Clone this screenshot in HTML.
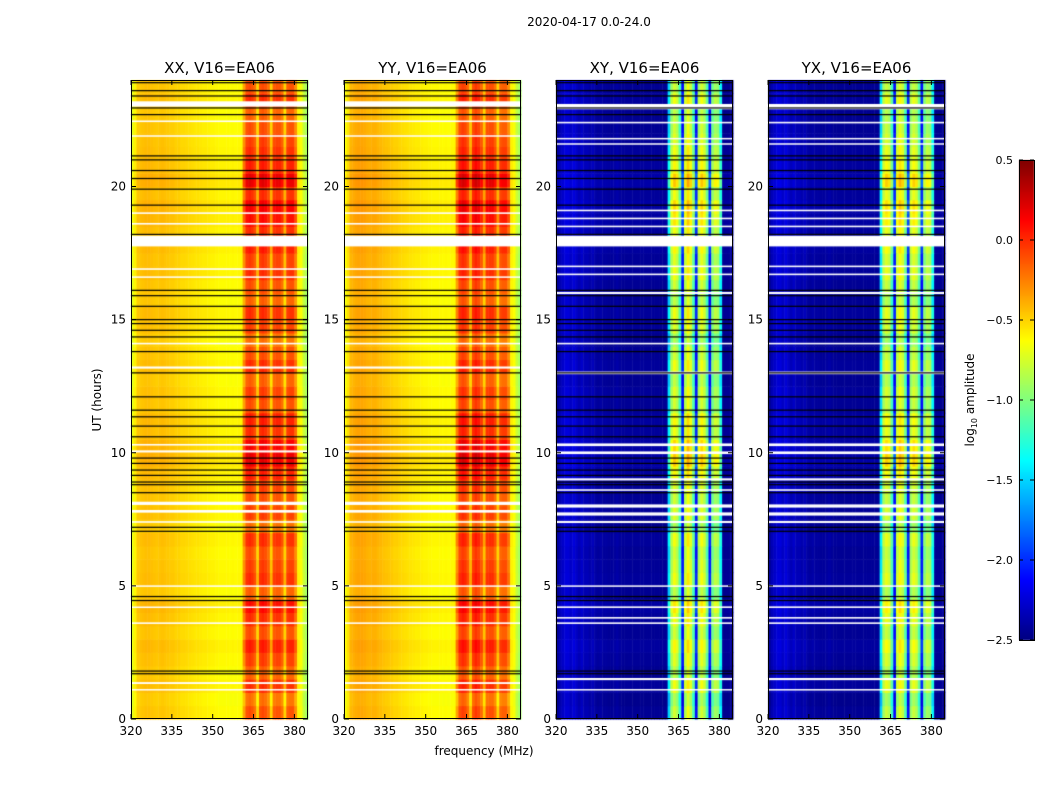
<!DOCTYPE html>
<html><head><meta charset="utf-8"><style>
body{margin:0;background:#fff;width:1050px;height:800px;overflow:hidden;position:relative;font-family:"Liberation Sans","DejaVu Sans",sans-serif}
canvas{position:absolute;left:0;top:0}
svg{position:absolute;left:0;top:0}
text{font-family:"DejaVu Sans","Liberation Sans",sans-serif;fill:#000}
</style></head><body>
<canvas id="cv" width="1050" height="800"></canvas>
<svg id="sv" width="1050" height="800"></svg>
<script>
// ---- data ----
const freqStart = 320;            // MHz, 1 MHz channels
const xTicks = [320,335,350,365,380];
const yTicks = [0,5,10,15,20];
const cbTicks = [0.5,0.0,-0.5,-1.0,-1.5,-2.0,-2.5];
const panelTitles = ["XX, V16=EA06","YY, V16=EA06","XY, V16=EA06","YX, V16=EA06"];
const profXX = [-0.7,-0.6,-0.48,-0.46,-0.45,-0.44,-0.44,-0.45,-0.46,-0.47,-0.46,-0.45,-0.46,-0.47,-0.48,-0.48,-0.5,-0.5,-0.52,-0.52,-0.53,-0.54,-0.55,-0.56,-0.56,-0.57,-0.58,-0.58,-0.59,-0.6,-0.6,-0.61,-0.62,-0.62,-0.62,-0.62,-0.63,-0.62,-0.63,-0.62,-0.63,
 -0.35,-0.12,-0.08,-0.12,-0.2,-0.5,-0.12,-0.08,-0.12,-0.2,-0.5,-0.15,-0.12,-0.12,-0.2,-0.5,-0.15,-0.12,-0.12,-0.3,-0.6,-0.65,-0.8,-0.9];
const profYY = [-0.65,-0.55,-0.42,-0.4,-0.38,-0.37,-0.37,-0.38,-0.4,-0.41,-0.4,-0.4,-0.42,-0.43,-0.45,-0.46,-0.47,-0.48,-0.5,-0.5,-0.52,-0.53,-0.54,-0.55,-0.56,-0.57,-0.58,-0.58,-0.59,-0.6,-0.6,-0.61,-0.62,-0.62,-0.62,-0.62,-0.63,-0.62,-0.63,-0.62,-0.62,
 -0.35,-0.1,-0.05,-0.08,-0.18,-0.45,-0.1,-0.03,-0.08,-0.18,-0.45,-0.12,-0.1,-0.1,-0.2,-0.5,-0.18,-0.15,-0.15,-0.3,-0.6,-0.65,-0.8,-0.9];
const profXY = [-2.45,-2.35,-2.3,-2.25,-2.25,-2.3,-2.25,-2.3,-2.35,-2.3,-2.35,-2.35,-2.38,-2.35,-2.4,-2.42,-2.4,-2.42,-2.42,-2.43,-2.43,-2.42,-2.4,-2.43,-2.44,-2.44,-2.44,-2.44,-2.44,-2.44,-2.44,-2.44,-2.44,-2.44,-2.44,-2.44,-2.44,-2.44,-2.44,-2.44,-2.44,
 -1.5,-0.9,-0.75,-0.85,-1.2,-2.1,-0.85,-0.65,-0.8,-1.15,-2.1,-0.9,-0.75,-0.85,-1.15,-2.1,-1.05,-0.9,-0.95,-1.4,-2.45,-2.45,-2.45,-2.45];
const profYX = [-2.45,-2.35,-2.3,-2.25,-2.25,-2.3,-2.25,-2.3,-2.35,-2.3,-2.35,-2.35,-2.38,-2.35,-2.4,-2.42,-2.4,-2.42,-2.42,-2.43,-2.43,-2.42,-2.4,-2.43,-2.44,-2.44,-2.44,-2.44,-2.44,-2.44,-2.44,-2.44,-2.44,-2.44,-2.44,-2.44,-2.44,-2.44,-2.44,-2.44,-2.44,
 -1.5,-0.9,-0.78,-0.85,-1.2,-2.1,-0.85,-0.7,-0.8,-1.15,-2.1,-0.9,-0.78,-0.85,-1.15,-2.1,-1.05,-0.9,-0.95,-1.4,-2.45,-2.45,-2.45,-2.45];
// half-hour modulation of band brightness (0..24 h)
const rowMod = [0.0,-0.1,0.1,-0.05,0.05,0.15,0.0,0.1,0.2,-0.05,0.1,0.05,0.0,0.1,-0.1,0.05,0.0,0.05,0.15,0.3,0.25,0.1,0.15,0.0,
 0.05,-0.05,0.1,0.0,-0.1,0.05,0.1,-0.05,0.0,0.1,0.05,0.15,0.1,0.2,0.25,0.1,0.3,0.15,0.1,0.05,0.0,-0.05,0.1,0.0];
const whiteRowsXX = [[23.1,0.2],[22.45,0.06],[21.9,0.05],[19.0,0.06],[18.6,0.06],[17.95,0.4],[16.9,0.06],[16.6,0.05],[14.1,0.06],[13.2,0.08],[10.3,0.06],[10.05,0.08],[8.1,0.12],[7.8,0.1],[7.4,0.06],[5.0,0.04],[4.2,0.05],[3.6,0.06],[1.35,0.07],[1.1,0.05]];
const whiteRowsCross = [[23.0,0.2],[22.4,0.06],[21.8,0.05],[21.6,0.05],[19.1,0.06],[18.8,0.06],[18.5,0.06],[17.95,0.4],[17.0,0.06],[16.7,0.06],[16.0,0.08],[14.1,0.06],[13.0,0.1],[10.3,0.1],[10.0,0.1],[9.0,0.08],[8.6,0.06],[8.0,0.12],[7.7,0.12],[7.4,0.08],[5.0,0.04],[4.2,0.06],[3.8,0.06],[3.6,0.06],[1.5,0.08],[1.1,0.05]];
const blackRows = [23.9,23.6,23.4,22.95,22.7,21.15,21.0,20.6,20.3,19.9,19.3,18.2,16.1,15.9,15.5,15.0,14.85,14.6,14.35,13.8,13.0,12.1,11.6,11.35,11.0,10.6,9.8,9.6,9.35,9.15,8.9,8.8,8.5,7.2,7.05,4.6,4.45,1.8,1.7];
// ---- layout ----
const lefts=[131,344,556,768], W=177, T=80, B=719, fMax=385, tMax=24;
const profs=[profXX,profYY,profXY,profYX];
const xs=(p,f)=>lefts[p]+(f-freqStart)/(fMax-freqStart)*W;
const ys=t=>B-(t/tMax)*(B-T);
function jet(v){ // v in [-2.5,0.5]
  let x=(v+2.5)/3; x=Math.max(0,Math.min(1,x));
  const c=t=>Math.round(255*Math.max(0,Math.min(1,1.5-Math.abs(4*x-t))));
  return `rgb(${c(3)},${c(2)},${c(1)})`;
}
const cv=document.getElementById('cv'), ctx=cv.getContext('2d');
for(let p=0;p<4;p++){
  const prof=profs[p];
  for(let r=0;r<rowMod.length;r++){
    const t0=r*0.5, t1=t0+0.5;
    for(let i=0;i<prof.length;i++){
      const f=freqStart+i;
      const band=(f>=361&&f<=380);
      const v=prof[i]+(band?rowMod[r]:rowMod[r]*0.2);
      ctx.fillStyle=jet(v);
      const x0=xs(p,f), x1=xs(p,Math.min(f+1,fMax));
      ctx.fillRect(x0,ys(t1),x1-x0+0.5,ys(t0)-ys(t1)+0.5);
    }
  }
  const wr = p<2?whiteRowsXX:whiteRowsCross;
  ctx.fillStyle='#fff';
  wr.forEach(([t,h])=>{ctx.fillRect(lefts[p],ys(t+h/2),W,Math.max(1.5,ys(t-h/2)-ys(t+h/2)));});
  ctx.fillStyle='#000';
  blackRows.forEach(t=>{ctx.fillRect(lefts[p],ys(t)-0.6,W,1.2);});
}
// colorbar
for(let y=160;y<640;y++){ctx.fillStyle=jet(0.5-(y-160)/480*3);ctx.fillRect(1019,y,15,1);}
// ---- svg overlay ----
const NS='http://www.w3.org/2000/svg', sv=document.getElementById('sv');
function mk(tag,attrs,txt){const e=document.createElementNS(NS,tag);for(const k in attrs)e.setAttribute(k,attrs[k]);if(txt!==undefined)e.textContent=txt;sv.appendChild(e);return e;}
const title=mk('text',{x:589,y:26,'text-anchor':'middle','font-size':12},'2020-04-17 0.0-24.0');


for(let p=0;p<4;p++){
  const fr=mk('rect',{x:lefts[p]+0.5,y:T+0.5,width:W-1,height:B-T-1,fill:'none',stroke:'#000','stroke-width':1});
  
  
  const pt=mk('text',{x:lefts[p]+W/2,y:73,'text-anchor':'middle','font-size':15},panelTitles[p]);
  
  
  xTicks.forEach(f=>{
    const x=xs(p,f);
    mk('line',{x1:x,x2:x,y1:B,y2:B-5,stroke:'#000'});
    mk('line',{x1:x,x2:x,y1:T,y2:T+5,stroke:'#000'});
    const tl=mk('text',{x:x,y:B+16,'text-anchor':'middle','font-size':12},String(f));
    
    
  });
  yTicks.forEach(t=>{
    const y=ys(t);
    mk('line',{x1:lefts[p],x2:lefts[p]+5,y1:y,y2:y,stroke:'#000'});
    mk('line',{x1:lefts[p]+W,x2:lefts[p]+W-5,y1:y,y2:y,stroke:'#000'});
    const tl=mk('text',{x:lefts[p]-5,y:y+4,'text-anchor':'end','font-size':12},String(t));
    
    
  });
}
const xl=mk('text',{x:484,y:755,'text-anchor':'middle','font-size':12},'frequency (MHz)');


const yl=mk('text',{x:101,y:400,'text-anchor':'middle','font-size':12,transform:'rotate(-90 101 400)'},'UT (hours)');


const cbf=mk('rect',{x:1019.5,y:160.5,width:15,height:480,fill:'none',stroke:'#000'});


cbTicks.forEach(v=>{
  const y=160+(0.5-v)/3*480;
  mk('line',{x1:1019,x2:1023,y1:y,y2:y,stroke:'#000'});
  mk('line',{x1:1034,x2:1030,y1:y,y2:y,stroke:'#000'});
  const tl=mk('text',{x:1013,y:y+4,'text-anchor':'end','font-size':11},v.toFixed(1).replace('-','\u2212'));
  
  
});
const cl=mk('text',{x:974,y:400,'text-anchor':'middle','font-size':12,transform:'rotate(-90 974 400)'});


cl.innerHTML='log<tspan font-size="8" dy="3">10</tspan><tspan dy="-3"> amplitude</tspan>';
</script>
</body></html>
